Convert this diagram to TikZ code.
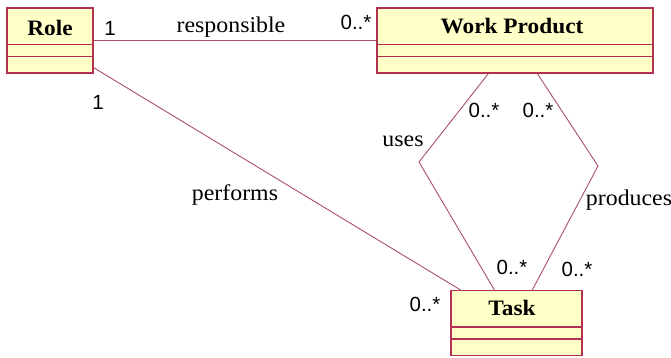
\documentclass[tikz,border=0pt]{standalone}
\usepackage{fontspec}
\setmainfont{Liberation Serif}[FakeStretch=1.06]
\newfontfamily\numfont{Liberation Sans}
\definecolor{boxline}{RGB}{178,48,82}
\definecolor{boxfill}{RGB}{255,255,200}
\definecolor{conn}{RGB}{170,80,100}
\begin{document}
\begin{tikzpicture}[x=1pt,y=-1pt,
  classbox/.style={draw=boxline,fill=boxfill,line width=1.3pt,inner sep=0pt,minimum width=#1,minimum height=65pt},
  cname/.style={font=\fontsize{22}{24}\selectfont\bfseries,text=black,inner sep=0pt},
  lbl/.style={font=\fontsize{22.5}{24}\selectfont,text=black,inner sep=0pt},
  mult/.style={font=\numfont\fontsize{20.5}{22}\selectfont,text=black,inner sep=0pt},
  assoc/.style={draw=conn,line width=0.9pt}]
\useasboundingbox (0,0) rectangle (671,357);
% boxes
\node[classbox=86pt] (role) at (50,40.5) {};
\node[classbox=276pt] (wp) at (515,40.5) {};
\node[classbox=131pt] (task) at (516.5,323) {};
% dividers
\foreach \b in {role,wp,task}{
  \draw[boxline,line width=1.3pt] ([yshift=-37pt]\b.north west) -- ([yshift=-37pt]\b.north east);
  \draw[boxline,line width=1.3pt] ([yshift=-49pt]\b.north west) -- ([yshift=-49pt]\b.north east);
}
% names
\node[cname] (rolen) at (50,28) {Role};
\node[cname] (wpn) at (512,26) {Work Product};
\node[cname] (taskn) at (512,308) {Task};
% connector points
\coordinate (usesbend) at (419,162);
\coordinate (prodbend) at (598,166);
% connectors
\draw[assoc] (role.east) -- (wp.west);
\draw[assoc] ([yshift=6pt]role.south east) -- ([xshift=10pt]task.north west);
\draw[assoc] ([xshift=112pt]wp.south west) -- (usesbend) -- ([xshift=44pt]task.north west);
\draw[assoc] ([xshift=161pt]wp.south west) -- (prodbend) -- ([xshift=82pt]task.north west);
% labels
\node[lbl] (resp) at (231,27) {responsible};
\node[lbl] (perf) at (235,195) {performs};
\node[lbl] (uses) at (403,141) {uses};
\node[lbl] (prod) at (629,200) {produces};
\node[mult] (m1) at (110,28) {1};
\node[mult] (m2) at (98,102) {1};
\node[mult] (m3) at (356,22) {0..*};
\node[mult] (m4) at (484,110) {0..*};
\node[mult] (m5) at (538,110) {0..*};
\node[mult] (m6) at (512,267) {0..*};
\node[mult] (m7) at (577,269) {0..*};
\node[mult] (m8) at (425,304) {0..*};
\end{tikzpicture}
\end{document}
